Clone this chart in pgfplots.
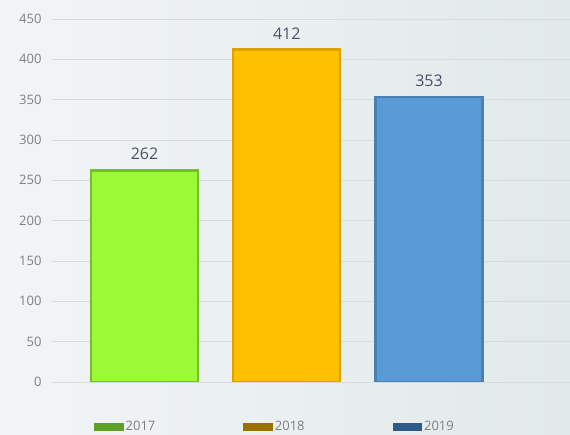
\documentclass[border=0pt]{standalone}
\usepackage{fontspec}
\setmainfont{Open Sans}
\usepackage{pgfplots}
\pgfplotsset{compat=1.18}

\definecolor{bgL}{HTML}{F2F5F7}
\definecolor{bgR}{HTML}{E2E9E9}
\definecolor{gridc}{HTML}{D9DCDD}
\definecolor{tickc}{HTML}{7F7F7F}
\definecolor{valc}{HTML}{44546A}
% bar fills / edges / legend swatches
\definecolor{g17}{HTML}{9BFA36}
\definecolor{g17e}{HTML}{74BE2C}
\definecolor{g17l}{HTML}{5EA126}
\definecolor{o18}{HTML}{FFC000}
\definecolor{o18e}{HTML}{DDA200}
\definecolor{o18l}{HTML}{9A7000}
\definecolor{b19}{HTML}{5B9BD5}
\definecolor{b19e}{HTML}{4A80B2}
\definecolor{b19l}{HTML}{2F5A8A}

\begin{document}
\begin{tikzpicture}
\useasboundingbox (0,0) rectangle (570pt,435pt);
\shade[left color=bgL, right color=bgR] (0,0) rectangle (570pt,435pt);
\begin{axis}[
    at={(52pt,53pt)}, anchor=south west,
    scale only axis,
    width=518pt, height=363pt,
    ybar, bar width=107pt, bar shift=0pt,
    xmin=-0.650, xmax=2.991,
    ymin=0, ymax=450,
    ytick={0,50,...,450},
    xtick=\empty,
    axis line style={draw=none},
    major tick length=0pt,
    ymajorgrids,
    grid style={gridc, line width=0.8pt},
    /pgf/number format/assume math mode=true,
    yticklabel style={font=\fontsize{13}{15}\selectfont, text=tickc, xshift=-7pt},
    nodes near coords,
    nodes near coords style={font=\fontsize{16}{18}\selectfont, text=valc},
    every node near coord/.append style={yshift=6pt},
    legend style={
        at={(0.081,-0.124)}, anchor=west,
        legend columns=3, draw=none, fill=none, inner sep=0pt,
        font=\fontsize{13}{15}\selectfont, text=tickc,
        /tikz/every even column/.append style={column sep=86pt},
    },
]
\addplot[fill=g17, draw=g17e, line width=2.5pt,
    legend image code/.code={\fill[g17l] (0pt,-3pt) rectangle (27pt,3pt);}]
    coordinates {(0,262)};
\addlegendentry{2017}
\addplot[fill=o18, draw=o18e, line width=2.5pt,
    legend image code/.code={\fill[o18l] (0pt,-3pt) rectangle (27pt,3pt);}]
    coordinates {(1,412)};
\addlegendentry{2018}
\addplot[fill=b19, draw=b19e, line width=2.5pt,
    legend image code/.code={\fill[b19l] (0pt,-3pt) rectangle (27pt,3pt);}]
    coordinates {(2,353)};
\addlegendentry{2019}
\end{axis}
\end{tikzpicture}
\end{document}
